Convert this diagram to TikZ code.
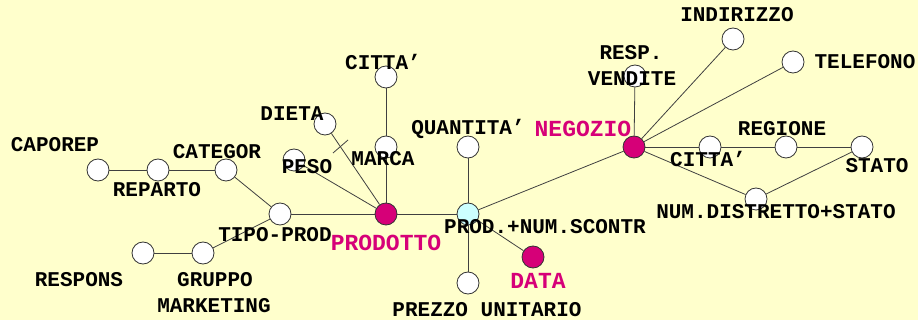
\documentclass[tikz,border=0pt]{standalone}
\usepackage{fontspec}
\newfontfamily\labelfont{Liberation Mono}
\definecolor{paleYellow}{RGB}{255,255,204}
\definecolor{keyMagenta}{RGB}{214,0,120}
\definecolor{paleCyan}{RGB}{204,255,255}
\begin{document}
\begin{tikzpicture}
[lineDecorate/.style={-,draw=black!75,line width=0.8pt},%
  nodeDecorate/.style={shape=circle,inner sep=0pt,minimum size=22pt,draw=black!80,line width=0.8pt,fill=white},%
  keyDecorate/.style={nodeDecorate,fill=keyMagenta},%
  textDecorate/.style={inner sep=0pt,font=\labelfont\bfseries\fontsize{21}{24}\selectfont},%
  keyText/.style={inner sep=0pt,text=keyMagenta,font=\labelfont\bfseries\fontsize{23}{26}\selectfont},%
  x=1pt,y=-1pt]
%% background
\fill[paleYellow] (0,0) rectangle (918,320);
\useasboundingbox (0,0) rectangle (918,320);
%% nodes or vertices
\foreach \nodename/\x/\y in {
  caporep/98/170, reparto/158/170, categor/226/170, tipoprod/280/214,
  gruppo/203/253, respons/143/253, dieta/325/124, peso/294/160,
  marca/386/147, cittaprod/386/77, quantita/468/147, prezzo/468/283,
  respvend/635/76, indirizzo/733/39, telefono/793/62, cittaneg/710/147,
  regione/786/147, stato/862/147, numdist/756/199}
{
  \node (\nodename) at (\x,\y) [nodeDecorate] {};
}
\node (prodotto) at (386,214) [keyDecorate] {};
\node (data) at (533,257) [keyDecorate] {};
\node (negozio) at (634,147) [keyDecorate] {};
\node (prodnum) at (468,214) [nodeDecorate,fill=paleCyan] {};
%% edges or lines
\path
\foreach \startnode/\endnode in {caporep/reparto, reparto/categor, categor/tipoprod,
  tipoprod/gruppo, gruppo/respons, tipoprod/prodotto, prodotto/peso, prodotto/dieta,
  prodotto/marca, marca/cittaprod, prodotto/prodnum, prodnum/quantita, prodnum/prezzo,
  prodnum/data, prodnum/negozio, negozio/respvend, negozio/indirizzo, negozio/telefono,
  negozio/cittaneg, cittaneg/regione, regione/stato, negozio/numdist, numdist/stato}
{
  (\startnode) edge[lineDecorate] (\endnode)
};
\draw[lineDecorate] (333,153) -- (348,140);
%% labels
\foreach \labelname/\x/\y/\labeltext in {
  caporepL/55/145/CAPOREP, repartoL/157/190/REPARTO, categorL/217/152/CATEGOR,
  tipoprodL/275/235/TIPO-PROD, gruppoL/215/280/GRUPPO, marketingL/214/306/MARKETING,
  responsL/79/280/RESPONS, dietaL/292/114/DIETA, pesoL/307/167/PESO,
  marcaL/383/159/MARCA, cittaprodL/383/62/CITTA’, quantitaL/468/129/QUANTITA’,
  prodnumL/545/227/PROD.+NUM.SCONTR, prezzoL/487/310/PREZZO UNITARIO,
  respL/631/53/RESP., venditeL/632/79/VENDITE, indirizzoL/737/15/INDIRIZZO,
  telefonoL/865/62/TELEFONO, cittanegL/708/159/CITTA’, regioneL/782/129/REGIONE,
  statoL/877/166/STATO, numdistL/776/212/NUM.DISTRETTO+STATO}
{
  \node (\labelname) at (\x,\y) [textDecorate] {\labeltext};
}
\node (prodottoL) at (386,243) [keyText] {PRODOTTO};
\node (dataL) at (538,281) [keyText] {DATA};
\node (negozioL) at (583,129) [keyText] {NEGOZIO};
\end{tikzpicture}
\end{document}
